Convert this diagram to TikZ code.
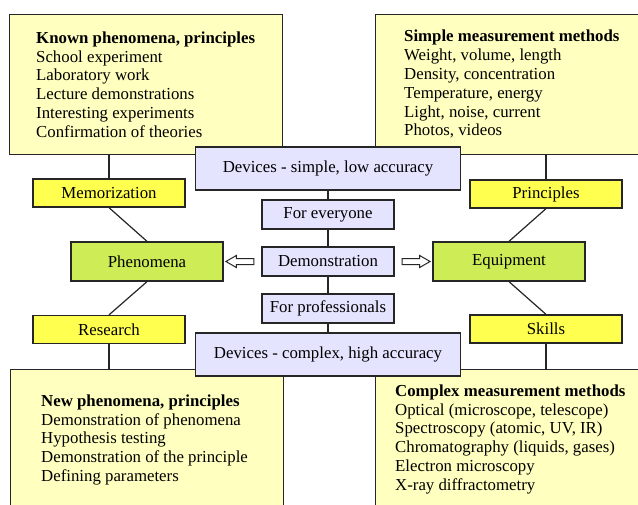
\documentclass[tikz,border=0pt]{standalone}
\usepackage{fontspec}
\setmainfont{Liberation Serif}
\usetikzlibrary{positioning}
\usetikzlibrary{shapes.arrows}
\usetikzlibrary{calc}
\definecolor{paleyellow}{RGB}{255,255,192}
\definecolor{brightyellow}{RGB}{255,255,80}
\definecolor{limegreen}{RGB}{205,236,85}
\definecolor{lavender}{RGB}{228,228,255}
\tikzstyle{bigbox}=[draw=black!85,line width=1.3pt,fill=paleyellow,inner sep=0pt,anchor=north west]
\tikzstyle{boxtext}=[align=left,inner sep=0pt,anchor=north west,font=\fontsize{16.8}{18.8}\selectfont]
\tikzstyle{tagbox}=[draw=black!85,line width=1.3pt,fill=brightyellow,minimum width=152pt,minimum height=28pt,inner sep=0pt,font=\fontsize{16.8}{18.8}\selectfont]
\tikzstyle{keybox}=[draw=black!85,line width=1.3pt,fill=limegreen,minimum width=152pt,minimum height=39pt,inner sep=0pt,font=\fontsize{16.8}{18.8}\selectfont]
\tikzstyle{devbox}=[draw=black!85,line width=1.3pt,fill=lavender,minimum width=265pt,minimum height=43pt,inner sep=0pt,font=\fontsize{16.8}{18.8}\selectfont]
\tikzstyle{modebox}=[draw=black!85,line width=1.3pt,fill=lavender,minimum width=132pt,minimum height=29pt,inner sep=0pt,font=\fontsize{16.8}{18.8}\selectfont]
\tikzstyle{link}=[draw,line width=1.2pt,black!85]
\tikzstyle{hollowarrow}=[single arrow,draw=black!85,fill=white,line width=1pt,minimum height=28pt,minimum width=0pt,inner sep=2.5pt,single arrow head extend=3pt,single arrow tip angle=60]

\begin{document}
\begin{tikzpicture}[x=1pt,y=-1pt]

  \clip (0,0) rectangle (638,504);
  \fill[white] (0,0) rectangle (638,504);

  % corner boxes
  \node[bigbox,minimum width=273pt,minimum height=140pt] (known) at (9,14) {};
  \node[bigbox,minimum width=272pt,minimum height=140pt] (simple) at (375,14) {};
  \node[bigbox,minimum width=273pt,minimum height=150pt] (newph) at (10,369) {};
  \node[bigbox,minimum width=272pt,minimum height=150pt] (complex) at (375,369) {};

  \node[boxtext] (knowntxt) at (36,31.5) {\textbf{Known phenomena, principles}\\School experiment\\Laboratory work\\Lecture demonstrations\\Interesting experiments\\Confirmation of theories};
  \node[boxtext] (simpletxt) at (404,30) {\textbf{Simple measurement methods}\\Weight, volume, length\\Density, concentration\\Temperature, energy\\Light, noise, current\\Photos, videos};
  \node[boxtext] (newphtxt) at (41,394.5) {\textbf{New phenomena, principles}\\Demonstration of phenomena\\Hypothesis testing\\Demonstration of the principle\\Defining parameters};
  \node[boxtext] (complextxt) at (395,384.5) {\textbf{Complex measurement methods}\\Optical (microscope, telescope)\\Spectroscopy (atomic, UV, IR)\\Chromatography (liquids, gases)\\Electron microscopy\\X-ray diffractometry};

  % middle column
  \foreach \x/\y/\name/\label in {328/168.5/dev1/{Devices - simple, low accuracy}, 328/354.5/dev2/{Devices - complex, high accuracy}}
         \node[devbox] (\name) at (\x,\y) {\label};
  \foreach \x/\y/\name/\label in {328/214.5/every/For everyone, 328/261.5/demo/Demonstration, 328/308.5/prof/For professionals}
         \node[modebox] (\name) at (\x,\y) {\label};

  % side columns
  \foreach \x/\y/\name/\label in {109/193/memo/Memorization, 109/329.5/res/Research, 546/194/prin/Principles, 546/329/skills/Skills}
         \node[tagbox] (\name) at (\x,\y) {\label};
  \foreach \x/\y/\name/\label in {147/261.5/phen/Phenomena, 509/261.5/equip/Equipment}
         \node[keybox] (\name) at (\x,\y) {\label};

  \foreach \source/\dest in {memo/phen, phen/res, prin/equip, equip/skills, dev1/every, every/demo, demo/prof, prof/dev2}
         \path[link] (\source.south) -- (\dest.north);

  \path[link] (memo.north) -- (memo.north |- known.south);
  \path[link] (prin.north) -- (prin.north |- simple.south);
  \path[link] (res.south) -- (res.south |- newph.north);
  \path[link] (skills.south) -- (skills.south |- complex.north);

  \node[hollowarrow,shape border rotate=180] (toleft) at ($(phen.east)!0.5!(demo.west)$) {};
  \node[hollowarrow] (toright) at ($(demo.east)!0.5!(equip.west)$) {};

\end{tikzpicture}
\end{document}
